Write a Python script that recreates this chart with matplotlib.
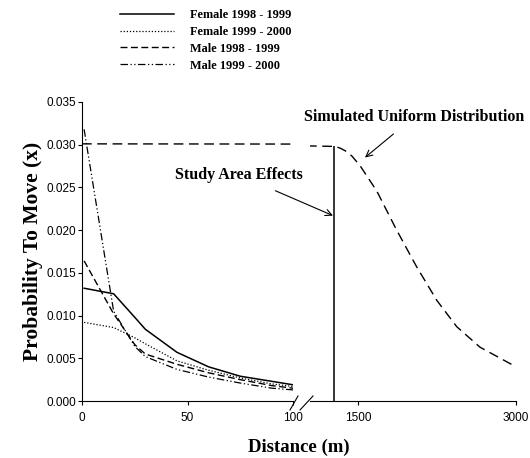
import numpy as np
import matplotlib
matplotlib.use('Agg')
import matplotlib.pyplot as plt
from matplotlib.lines import Line2D

# data
dist = [1, 15, 25, 30, 45, 60, 75, 90, 100]
female_98_99 = [0.0132, 0.01255, 0.0098, 0.0084, 0.0057, 0.0040, 0.0029, 0.0023, 0.0019]
female_99_00 = [0.0092, 0.0086, 0.0074, 0.0067, 0.0047, 0.0036, 0.0027, 0.0020, 0.0017]
male_98_99 = [0.0164, 0.0102, 0.0066, 0.0055, 0.0043, 0.0033, 0.0025, 0.0018, 0.0015]
male_99_00 = [0.0318, 0.0105, 0.0064, 0.0052, 0.0037, 0.0028, 0.0021, 0.0015, 0.0013]

sim_x = [0, 1282, 1330, 1377, 1440, 1519, 1677, 1772, 1867, 2057, 2247, 2437, 2658, 3000]
sim_y = [0.0301, 0.0298, 0.0296, 0.0293, 0.0287, 0.02755, 0.0246, 0.0223, 0.0200,
         0.0157, 0.0118, 0.0087, 0.0063, 0.0040]

boundary_x = 1272
boundary_top = 0.0298

labels = ['Female 1998 - 1999', 'Female 1999 - 2000', 'Male 1998 - 1999', 'Male 1999 - 2000']
styles = ['-', (0, (1, 1.5)), (0, (5, 2.5)), (0, (6, 2, 1, 2, 1, 2))]
widths = [1.1, 0.9, 1.0, 0.9]

serif = 'Liberation Serif'
sans = 'Liberation Sans'

fig = plt.figure(figsize=(5.3, 4.58), dpi=100)
bottom, height = 57 / 458, 299 / 458
ax1 = fig.add_axes([82 / 530, bottom, 211 / 530, height])
ax2 = fig.add_axes([310 / 530, bottom, 206 / 530, height])

for y, ls, lw, lab in zip([female_98_99, female_99_00, male_98_99, male_99_00], styles, widths, labels):
    ax1.plot(dist, y, color='black', linestyle=ls, linewidth=lw, label=lab)

for ax in (ax1, ax2):
    ax.plot(sim_x, sim_y, color='black', linestyle=(0, (7, 4)), linewidth=1.0)
    ax.set_ylim(0, 0.035)
    ax.spines['top'].set_visible(False)
    ax.spines['right'].set_visible(False)
    ax.tick_params(direction='out', length=3, width=0.8, labelsize=8.5, pad=5)

ax2.vlines(boundary_x, 0, boundary_top, color='black', linewidth=1.1)

yt = np.arange(0, 0.0351, 0.005)
ax1.set_xlim(0, 100)
ax1.set_xticks([0, 50, 100])
ax1.set_xticklabels(['0', '50', '100'], fontfamily=sans)
ax1.set_yticks(yt)
ax1.set_yticklabels([f'{v:.3f}' for v in yt], fontfamily=sans)
ax1.tick_params(axis='y', pad=1)

ax2.set_xlim(1044, 3000)
ax2.set_xticks([1500, 3000])
ax2.set_xticklabels(['1500', '3000'], fontfamily=sans)
ax2.spines['left'].set_visible(False)
ax2.set_yticks([])

ax1.set_ylabel('Probability To Move (x)', fontfamily=serif, fontweight='bold', fontsize=15.5, labelpad=3)
fig.text(299 / 530, 1 - 447 / 458, 'Distance (m)', ha='center', va='center',
         fontfamily=serif, fontweight='bold', fontsize=13.5)

# break marks on the x axis
for x0, x1 in [(290, 298), (300, 313)]:
    fig.add_artist(Line2D([x0 / 530, x1 / 530], [1 - 410 / 458, 1 - 396 / 458],
                          color='black', linewidth=0.8))

arrow = dict(arrowstyle='->', color='black', linewidth=0.8, shrinkB=0)
ax2.annotate('Simulated Uniform Distribution', xy=(1566, 0.0285),
             xytext=(414 / 530, 1 - 117 / 458), textcoords='figure fraction',
             ha='center', va='center', fontfamily=serif, fontweight='bold', fontsize=11.5,
             arrowprops=dict(arrow, shrinkA=7))
ax2.annotate('Study Area Effects', xy=(1262, 0.0217),
             xytext=(239 / 530, 1 - 175 / 458), textcoords='figure fraction',
             ha='center', va='center', fontfamily=serif, fontweight='bold', fontsize=11.5,
             arrowprops=dict(arrow, shrinkA=9))

fig.legend(loc='upper left', bbox_to_anchor=(120 / 530, 1 - 9 / 458), frameon=False,
           handlelength=4.4, handletextpad=1.3, labelspacing=0.4, borderpad=0,
           borderaxespad=0, prop={'family': serif, 'weight': 'bold', 'size': 8.8})

fig.savefig('out.png', dpi=100)
